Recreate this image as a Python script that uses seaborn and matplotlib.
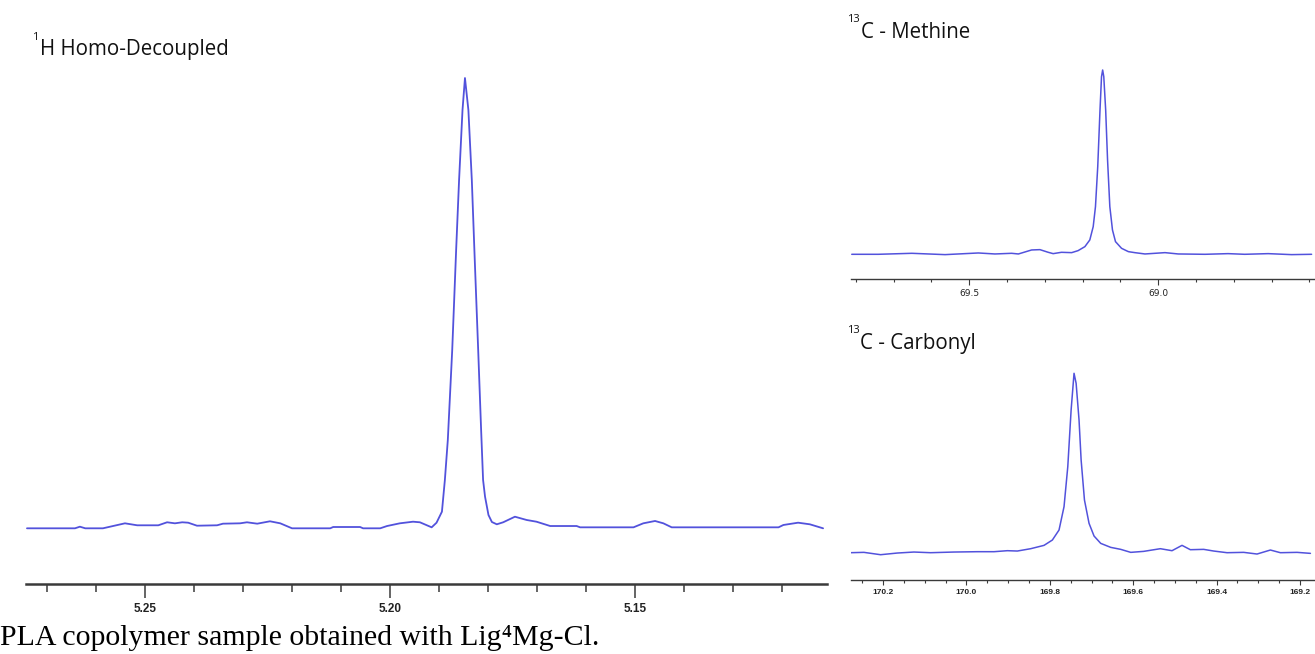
import numpy as np
import pandas as pd
import matplotlib
matplotlib.use("Agg")
import matplotlib.pyplot as plt
import seaborn as sns
from matplotlib.ticker import MultipleLocator

# ---------------- data ----------------
# 1H homo-decoupled spectrum (ppm, relative intensity, main peak = 100)
h_ppm = [5.2741, 5.2643, 5.2633, 5.2622, 5.2586, 5.2541, 5.2516, 5.2473, 5.2455, 5.2439,
         5.2424, 5.2412, 5.2394, 5.2353, 5.2341, 5.2306, 5.2292, 5.2271, 5.2245, 5.2224,
         5.2200, 5.2122, 5.2116, 5.2061, 5.2055, 5.2020, 5.2006, 5.1980, 5.1953, 5.1939,
         5.1915, 5.1905, 5.1894, 5.1888, 5.1882, 5.1873, 5.1865, 5.1859, 5.1852, 5.1847,
         5.1840, 5.1833, 5.1827, 5.1820, 5.1814, 5.1810, 5.1806, 5.1799, 5.1792, 5.1782,
         5.1769, 5.1745, 5.1721, 5.1701, 5.1673, 5.1619, 5.1612, 5.1503, 5.1483, 5.1459,
         5.1442, 5.1425, 5.1207, 5.1197, 5.1167, 5.1143, 5.1116]
h_int = [-0.18, -0.18, 0.18, -0.18, -0.18, 0.93, 0.49, 0.49, 1.16, 0.93,
         1.16, 1.07, 0.40, 0.49, 0.85, 0.93, 1.16, 0.85, 1.38, 0.93,
         -0.18, -0.18, 0.11, 0.11, -0.18, -0.18, 0.33, 0.93, 1.29, 1.16,
         0.04, 1.07, 3.52, 10.57, 19.47, 39.49, 61.74, 77.31, 92.88, 100.0,
         92.88, 77.31, 59.51, 39.49, 21.69, 10.57, 6.85, 2.78, 1.22, 0.71,
         1.16, 2.40, 1.67, 1.29, 0.33, 0.33, 0.04, 0.04, 0.93, 1.45,
         0.93, 0.04, 0.04, 0.56, 1.07, 0.71, -0.18]

# 13C methine region
methine_ppm = [69.811, 69.741, 69.652, 69.564, 69.476, 69.432, 69.388, 69.370, 69.335, 69.313,
               69.291, 69.278, 69.256, 69.229, 69.212, 69.194, 69.181, 69.172, 69.166, 69.160,
               69.154, 69.150, 69.147, 69.144, 69.139, 69.134, 69.128, 69.121, 69.113, 69.097,
               69.079, 69.062, 69.035, 68.982, 68.947, 68.876, 68.815, 68.771, 68.709, 68.647,
               68.594]
methine_int = [0.0, 0.0, 0.54, -0.18, 0.72, 0.18, 0.54, 0.18, 2.35, 2.53,
               1.08, 0.36, 1.08, 0.90, 1.99, 4.16, 7.78, 15.01, 25.86, 47.56,
               78.30, 96.38, 100.0, 96.38, 78.30, 51.18, 25.86, 13.20, 6.87, 3.25,
               1.45, 0.90, 0.18, 0.90, 0.18, 0.0, 0.36, 0.0, 0.36, -0.18,
               0.0]

# 13C carbonyl region
carbonyl_ppm = [170.278, 170.246, 170.206, 170.166, 170.126, 170.086, 170.030, 169.974, 169.934, 169.902,
                169.878, 169.846, 169.814, 169.794, 169.778, 169.766, 169.757, 169.749, 169.742, 169.737,
                169.730, 169.725, 169.717, 169.706, 169.694, 169.678, 169.654, 169.630, 169.606, 169.575,
                169.535, 169.507, 169.483, 169.463, 169.431, 169.407, 169.375, 169.335, 169.303, 169.271,
                169.247, 169.207, 169.175]
carbonyl_int = [0.0, 0.19, -1.12, -0.19, 0.37, 0.0, 0.37, 0.56, 0.56, 1.12,
                0.93, 2.23, 4.09, 7.06, 12.64, 25.65, 47.96, 79.55, 100.0, 94.42,
                73.98, 51.67, 29.37, 16.36, 9.29, 5.20, 2.97, 1.86, 0.19, 0.74,
                2.23, 1.12, 4.09, 1.67, 1.86, 0.93, 0.0, 0.19, -0.74, 1.49,
                0.0, 0.19, -0.37]

h_ticks = [5.25, 5.20, 5.15]
h_ticklabels = ["5.25", "5.20", "5.15"]
methine_ticks = [69.5, 69.0]
methine_ticklabels = ["69.5", "69.0"]
carbonyl_ticks = [170.2, 170.0, 169.8, 169.6, 169.4, 169.2]
carbonyl_ticklabels = ["170.2", "170.0", "169.8", "169.6", "169.4", "169.2"]

titles = ["H Homo-Decoupled", "C - Methine", "C - Carbonyl"]
title_sups = ["1", "13", "13"]
caption = "PLA copolymer sample obtained with Lig\u2074Mg-Cl."

# ---------------- drawing ----------------
sns.set_style("white")
plt.rcParams["font.family"] = ["Open Sans", "DejaVu Sans"]

W, H = 1315, 654
fig = plt.figure(figsize=(W / 100, H / 100), dpi=100)
LINE = "#5252dc"
AXC = "#3a3a3a"


def make_ax(x0, x1, ytop, yaxis, base_px, peak_px):
    ax = fig.add_axes([x0 / W, 1 - yaxis / H, (x1 - x0) / W, (yaxis - ytop) / H])
    ppu = (base_px - peak_px) / 100.0
    ax.set_ylim(-(yaxis - base_px) / ppu, 100 + (peak_px - ytop) / ppu)
    ax.patch.set_alpha(0)
    return ax


def style_ax(ax, xlim, ticks, labels, minor, spine_w, maj_len, min_len, tw, pad, lsize,
             lfamily, lweight):
    ax.set_xlim(*xlim)
    for s in ["left", "top", "right"]:
        ax.spines[s].set_visible(False)
    ax.spines["bottom"].set_color(AXC)
    ax.spines["bottom"].set_linewidth(spine_w)
    ax.set_yticks([])
    ax.set_xticks(ticks)
    ax.set_xticklabels(labels)
    ax.xaxis.set_minor_locator(MultipleLocator(minor))
    ax.tick_params(axis="x", which="both", bottom=True, top=False, direction="out",
                   color=AXC, width=tw)
    ax.tick_params(axis="x", which="major", length=maj_len, pad=pad, labelsize=lsize,
                   labelcolor="#222222")
    ax.tick_params(axis="x", which="minor", length=min_len)
    for t in ax.get_xticklabels():
        t.set_fontfamily(lfamily)
        t.set_fontweight(lweight)
    ax.set_xlabel("")
    ax.set_ylabel("")


# 1H panel
df_h = pd.DataFrame({"ppm": h_ppm, "intensity": h_int})
ax1 = make_ax(26, 827, 60, 584, 527.5, 78)
sns.lineplot(data=df_h, x="ppm", y="intensity", ax=ax1, color=LINE, lw=1.3,
             estimator=None, sort=True)
style_ax(ax1, (5.2743, 5.1108), h_ticks, h_ticklabels, 0.01, 1.8, 10, 6, 1.1, 4, 8.5,
         ["Liberation Sans Narrow", "Liberation Sans"], "bold")

# 13C methine panel
df_m = pd.DataFrame({"ppm": methine_ppm, "intensity": methine_int})
ax2 = make_ax(851, 1315, 60, 279, 254.3, 70)
sns.lineplot(data=df_m, x="ppm", y="intensity", ax=ax2, color=LINE, lw=1.1,
             estimator=None, sort=True)
style_ax(ax2, (69.813, 68.585), methine_ticks, methine_ticklabels, 0.1, 1.0, 4, 2.5, 0.8, 3, 6.5,
         ["DejaVu Sans"], "normal")

# 13C carbonyl panel
df_c = pd.DataFrame({"ppm": carbonyl_ppm, "intensity": carbonyl_int})
ax3 = make_ax(851, 1315, 360, 580, 552.7, 373.3)
sns.lineplot(data=df_c, x="ppm", y="intensity", ax=ax3, color=LINE, lw=1.1,
             estimator=None, sort=True)
style_ax(ax3, (170.277, 169.164), carbonyl_ticks, carbonyl_ticklabels, 0.05, 1.0, 3.5, 2.5, 0.8, 3,
         6, ["Liberation Sans"], "bold")


def ftext(x, y, s, **kw):
    fig.text(x / W, 1 - y / H, s, va="baseline", ha="left", **kw)


# titles with raised isotope numbers
title_pos = [(32, 40, 55.5), (847, 861, 37.5), (847, 860, 349)]
for (xs, xm, yb), sup, txt in zip(title_pos, title_sups, titles):
    ftext(xs, yb - 16, sup, fontsize=8, color="#111111")
    ftext(xm, yb, txt, fontsize=14.8, color="#111111")

ftext(0, 645, caption, fontsize=21.5, color="#000000",
      family=["Liberation Serif", "DejaVu Serif"])

fig.savefig("out.png", dpi=100)
